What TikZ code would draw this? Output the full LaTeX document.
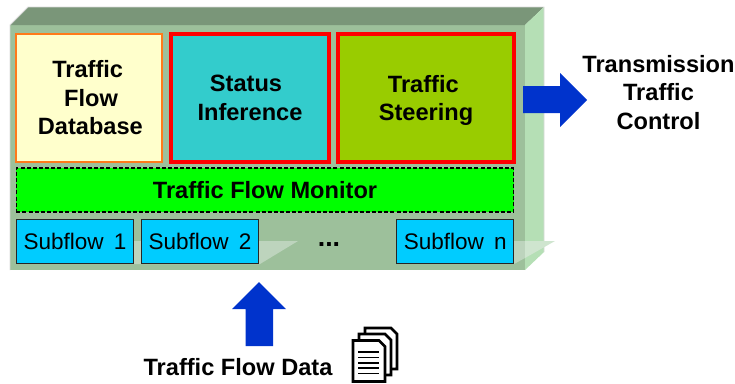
\documentclass[tikz,border=0pt]{standalone}
\usepackage{fontspec}
\setmainfont{Liberation Sans}
\definecolor{frontc}{HTML}{9DC09B}
\definecolor{topc}{HTML}{7A9679}
\definecolor{rightc}{HTML}{B5DFB5}
\definecolor{glassc}{HTML}{BDD4BD}
\definecolor{glassr}{HTML}{CFE5CF}
\definecolor{dbfill}{HTML}{FFFFCC}
\definecolor{dbline}{HTML}{FF7A1A}
\definecolor{statusc}{HTML}{33CCCC}
\definecolor{steerc}{HTML}{99CC00}
\definecolor{subc}{HTML}{00CCFF}
\definecolor{arrowc}{HTML}{0033CC}
\tikzset{
  x=0.75pt,y=-0.75pt,
  boxbase/.style={anchor=center,align=center,inner sep=0pt,outer sep=0pt,font=\fontsize{17.7}{21.4}\selectfont\bfseries,text=black},
  dbbox/.style={boxbase,draw=dbline,line width=1.1pt,fill=dbfill,minimum width=109.5pt,minimum height=96pt},
  redbox/.style={boxbase,draw=red,line width=3pt,minimum height=96pt},
  monbox/.style={boxbase,draw=black,dash pattern=on 3pt off 1.6pt,line width=.8pt,fill=green,minimum width=373pt,minimum height=33pt},
  subbox/.style={boxbase,font=\fontsize{16.9}{20}\selectfont,draw=black!85,line width=.9pt,fill=subc,minimum width=87.75pt,minimum height=33.3pt},
  lab/.style={anchor=center,align=center,inner sep=0pt,font=\fontsize{17.7}{21.4}\selectfont\bfseries},
  blockarrow/.style={fill=arrowc,draw=none},
  pagec/.style={draw=black,fill=white,line width=2pt,line join=miter}
}
\newcommand{\docpage}[1]{%
  \begin{scope}[shift={(#1)}]
    \draw[pagec] (0,0) -- (26,0) -- (32,6) -- (32,41) -- (0,41) -- cycle;
  \end{scope}}
\begin{document}
\begin{tikzpicture}
\useasboundingbox (0,0) rectangle (735,383);
% case
\fill[frontc] (10,25) rectangle (525,270);
\fill[topc] (10,25) -- (28,7) -- (544,7) -- (525,25) -- cycle;
\fill[rightc] (525,25) -- (544,7) -- (544,252) -- (525,270) -- cycle;
\draw[white!85!black,line width=.6pt] (10,270) -- (10,25) -- (28,7) -- (544,7) -- (544,252);
% reflections
\fill[glassc] (130,241) -- (298,241) -- (260,264) -- (130,264) -- cycle;
\fill[glassc] (514,241) -- (525,241) -- (525,258) -- (514,264) -- cycle;
\fill[glassr] (525,241) -- (555,241) -- (525,258) -- cycle;
% boxes
\node[dbbox] (db) at (89,98) {\kern2pt Traffic\kern4pt\\\kern3pt Flow\\\kern2pt Database};
\node[redbox,fill=statusc,minimum width=118.5pt] (status) at (250,98) {Status\kern6pt\\Inference};
\node[redbox,fill=steerc,minimum width=132pt] (steer) at (426,98) {Traffic\kern4pt\\\smash{Steering}};
\node[monbox] (mon) at (265,190) {Traffic Flow Monitor};
\node[subbox] (s1) at (75,241.5) {Subflow\hspace{.45em}1};
\node[subbox] (s2) at (200,241.5) {Subflow\hspace{.45em}2};
\node[subbox] (sn) at (455.25,241.5) {Subflow\hspace{.45em}n};
\node[lab,font=\fontsize{20}{20}\selectfont\bfseries] (dots) at (329,246) {\smash{...}};
% block arrows
\fill[blockarrow] (523,86) -- (560,86) -- (560,73) -- (587,100) -- (560,127) -- (560,113) -- (523,113) -- cycle;
\fill[blockarrow] (245.5,346) -- (245.5,309) -- (232,309) -- (259,282) -- (286,309) -- (273,309) -- (273,346) -- cycle;
% labels
\node[lab] (ttc) at (658.5,92.5) {Transmission\\Traffic\\Control};
\node[lab] (tfd) at (238,367) {Traffic Flow Data};
% documents
\docpage{365,328}
\docpage{359,334}
\docpage{353,340.5}
\foreach \yy in {352,357.5,363,368,373.5}{
  \draw[black,line width=1.2pt] (358,\yy) -- (379,\yy);
}
\end{tikzpicture}
\end{document}
